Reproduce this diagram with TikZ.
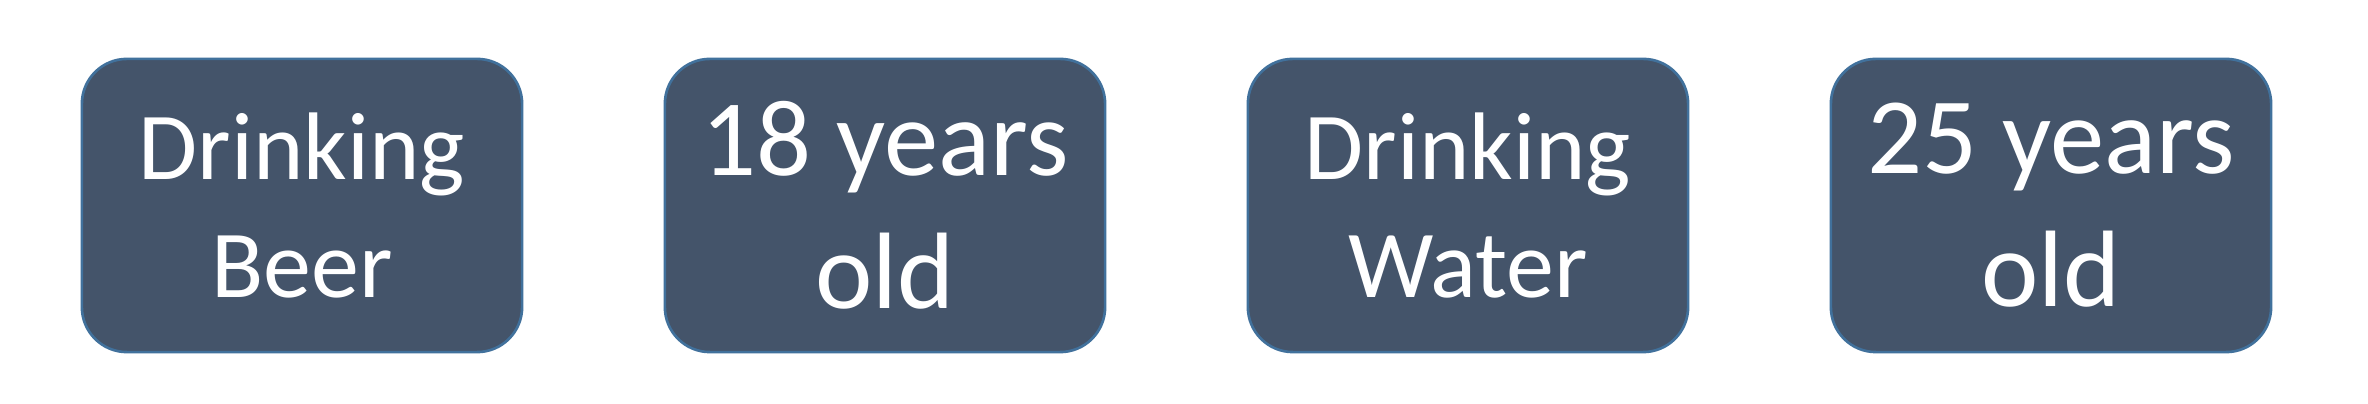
\documentclass[tikz,border=0pt]{standalone}
\usepackage{fontspec}
\setmainfont{Carlito}
\definecolor{boxfill}{HTML}{44546A}
\definecolor{boxline}{HTML}{41719C}
\begin{document}
\begin{tikzpicture}[x=0.01cm,y=-0.01cm,
  card/.style={draw=boxline, line width=0.75pt, fill=boxfill, rounded corners=0.45cm,
    minimum width=4.4cm, minimum height=2.93cm, text=white, align=center, inner sep=0pt},
  smalltxt/.style={font=\fontsize{27.3}{33.3}\selectfont},
  bigtxt/.style={font=\fontsize{30.9}{37.8}\selectfont}]
\useasboundingbox (0,0) rectangle (2368,404);
\fill[white] (0,0) rectangle (2368,404);
\node[card, smalltxt] (b1) at (302,205.5) {Drinking\\Beer};
\node[card, bigtxt] (b2) at (885,205.5) {18 years\\old};
\node[card, smalltxt] (b3) at (1468,205.5) {Drinking\\Water};
\node[card, bigtxt] (b4) at (2051,205.5) {25 years\\old};
\end{tikzpicture}
\end{document}
